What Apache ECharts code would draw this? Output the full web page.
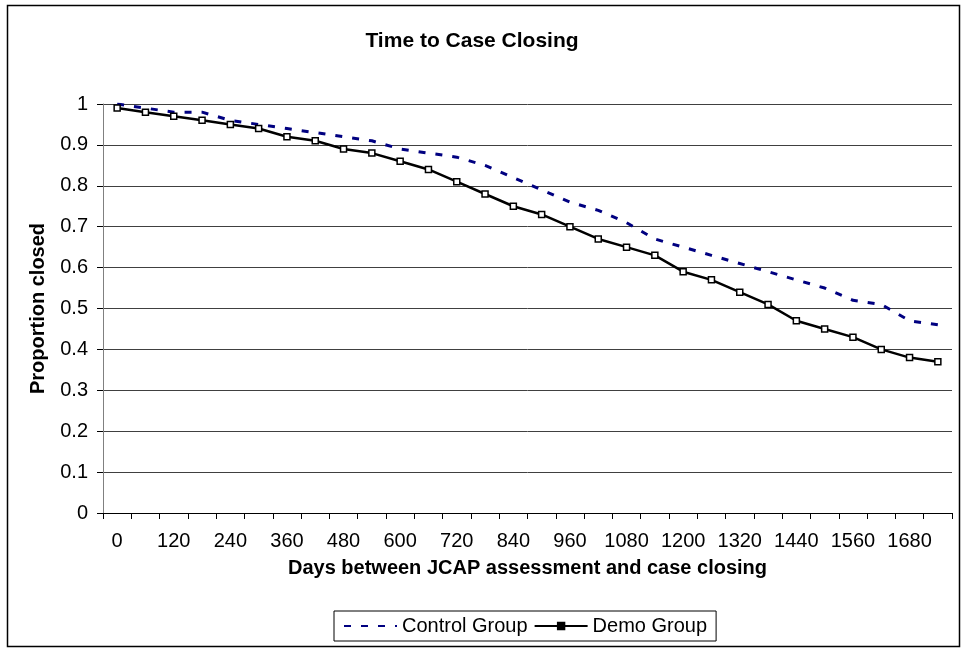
<!DOCTYPE html>
<html>
<head>
<meta charset="utf-8">
<script src="https://cdn.jsdelivr.net/npm/echarts@6/dist/echarts.min.js"></script>
<style>
  html, body { margin: 0; padding: 0; background: #fff; }
  #main { width: 967px; height: 651px; }
</style>
</head>
<body>
<div id="main"></div>
<script>
// days since JCAP assessment, one category every 60 days
const days = [0, 60, 120, 180, 240, 300, 360, 420, 480, 540, 600, 660, 720, 780, 840,
  900, 960, 1020, 1080, 1140, 1200, 1260, 1320, 1380, 1440, 1500, 1560, 1620, 1680, 1740];

const controlGroup = [1.0, 0.99, 0.98, 0.98, 0.96, 0.95, 0.94, 0.93, 0.92, 0.91,
  0.89, 0.88, 0.87, 0.85, 0.82, 0.79, 0.76, 0.74, 0.71, 0.67,
  0.65, 0.63, 0.61, 0.59, 0.57, 0.55, 0.52, 0.51, 0.47, 0.46];

const demoGroup = [0.99, 0.98, 0.97, 0.96, 0.95, 0.94, 0.92, 0.91, 0.89, 0.88,
  0.86, 0.84, 0.81, 0.78, 0.75, 0.73, 0.70, 0.67, 0.65, 0.63,
  0.59, 0.57, 0.54, 0.51, 0.47, 0.45, 0.43, 0.40, 0.38, 0.37];

const font = '"Liberation Sans", Arial, sans-serif';

const myChart = echarts.init(document.getElementById('main'), null, {renderer: 'canvas'});

const option = {
  animation: false,
  backgroundColor: '#fff',
  textStyle: {fontFamily: font},
  title: {
    text: 'Time to Case Closing',
    left: 467,
    top: 26,
    textAlign: 'center',
    textStyle: {fontFamily: font, fontSize: 21, fontWeight: 'bold', color: '#000'}
  },
  graphic: [
    {
      type: 'rect',
      shape: {x: 7.5, y: 5.5, width: 952, height: 641},
      style: {fill: 'none', stroke: '#000', lineWidth: 1.5},
      silent: true
    }
  ],
  legend: {
    left: 334,
    top: 611,
    itemWidth: 53,
    itemHeight: 8,
    itemGap: 6,
    padding: [5, 9, 5, 9],
    borderColor: '#000',
    borderWidth: 1,
    textStyle: {fontFamily: font, fontSize: 20, color: '#000'},
    data: [
      {name: 'Control Group', itemStyle: {opacity: 0}},
      {name: 'Demo Group', itemStyle: {color: '#000'}}
    ]
  },
  grid: {
    left: 103,
    right: 15,
    top: 104,
    bottom: 138
  },
  xAxis: {
    type: 'category',
    data: days,
    boundaryGap: true,
    name: 'Days between JCAP assessment and case closing',
    nameLocation: 'middle',
    nameGap: 45,
    nameTextStyle: {fontFamily: font, fontSize: 20, fontWeight: 'bold', color: '#000'},
    axisLine: {lineStyle: {color: '#000', width: 1}},
    axisTick: {show: true, interval: 0, length: 6, lineStyle: {color: '#000'}},
    axisLabel: {interval: 1, fontSize: 20, color: '#000', margin: 18, fontFamily: font},
    splitLine: {show: false}
  },
  yAxis: {
    type: 'value',
    min: 0,
    max: 1,
    interval: 0.1,
    name: 'Proportion closed',
    nameLocation: 'middle',
    nameGap: 55,
    nameRotate: 90,
    nameTextStyle: {fontFamily: font, fontSize: 20, fontWeight: 'bold', color: '#000'},
    axisLine: {show: true, lineStyle: {color: '#808080', width: 1}},
    axisTick: {show: true, length: 6, lineStyle: {color: '#000'}},
    axisLabel: {fontSize: 20, color: '#000', margin: 15, fontFamily: font},
    splitLine: {show: true, lineStyle: {color: '#404040', width: 1}}
  },
  series: [
    {
      name: 'Control Group',
      type: 'line',
      data: controlGroup,
      symbol: 'none',
      itemStyle: {color: '#000080'},
      lineStyle: {color: '#000080', width: 3, type: [7, 10]},
      z: 3
    },
    {
      name: 'Demo Group',
      type: 'line',
      data: demoGroup,
      symbol: 'rect',
      symbolSize: 6,
      showAllSymbol: true,
      itemStyle: {color: '#fff', borderColor: '#000', borderWidth: 1.5},
      lineStyle: {color: '#000', width: 2.5},
      z: 4
    }
  ]
};

myChart.setOption(option);
</script>
</body>
</html>
